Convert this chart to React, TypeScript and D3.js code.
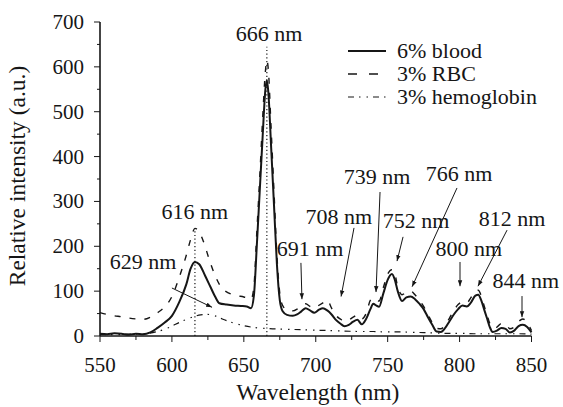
import React from "react";
import * as d3 from "d3";

// 6% blood (solid)
const bloodWl = [550, 555, 560, 565, 570, 575, 580, 585, 590, 595, 600, 605, 610, 613, 616, 619, 623, 627, 630, 633, 638, 643, 648, 652, 655, 657, 659, 661, 663, 665, 666, 667, 669, 671, 673, 675, 677, 680, 684, 687, 690, 693, 696, 699, 702, 705, 708, 711, 714, 717, 720, 723, 726, 729, 732, 735, 738, 740, 742, 744, 747, 750, 753, 755, 757, 760, 763, 766, 769, 772, 775, 778, 781, 784, 787, 790, 793, 796, 799, 802, 805, 808, 811, 813, 815, 817, 819, 821, 823, 826, 829, 832, 835, 838, 841, 844, 847, 850];
const bloodVal = [5, 4, 6, 5, 3, 5, 4, 8, 18, 30, 45, 75, 115, 150, 165, 160, 135, 108, 88, 73, 70, 68, 67, 66, 62, 90, 200, 320, 440, 550, 570, 545, 420, 290, 160, 80, 55, 47, 45, 48, 55, 62, 57, 52, 58, 62, 57, 48, 36, 28, 22, 25, 32, 36, 26, 38, 60, 72, 68, 65, 95, 125, 138, 125, 100, 78, 86, 88, 82, 72, 60, 42, 25, 10, 9, 18, 33, 48, 60, 68, 66, 75, 90, 92, 80, 60, 40, 20, 9, 12, 18, 16, 8, 12, 22, 25, 20, 8];

// 3% RBC (dashed)
const rbcWl = [550, 555, 560, 565, 570, 575, 580, 585, 590, 595, 600, 605, 610, 613, 616, 619, 622, 626, 630, 634, 640, 645, 650, 655, 657, 659, 661, 663, 665, 666, 667, 669, 671, 673, 675, 677, 680, 684, 687, 690, 693, 696, 699, 702, 705, 708, 711, 714, 717, 720, 723, 726, 729, 732, 735, 738, 740, 742, 744, 747, 750, 753, 755, 757, 760, 763, 766, 769, 772, 775, 778, 781, 784, 787, 790, 793, 796, 799, 802, 805, 808, 811, 813, 815, 817, 819, 821, 823, 826, 829, 832, 835, 838, 841, 844, 847, 850];
const rbcVal = [52, 48, 45, 43, 40, 38, 37, 42, 52, 65, 88, 130, 180, 215, 240, 232, 210, 170, 135, 110, 95, 90, 87, 82, 110, 230, 350, 480, 590, 615, 595, 460, 320, 180, 95, 68, 58, 56, 60, 68, 72, 66, 62, 68, 74, 80, 62, 46, 38, 33, 36, 42, 47, 38, 50, 80, 85, 80, 78, 108, 138, 148, 138, 110, 92, 98, 100, 92, 80, 66, 48, 30, 17, 16, 25, 40, 57, 70, 76, 74, 86, 100, 102, 90, 68, 48, 28, 18, 20, 28, 26, 16, 20, 32, 38, 30, 12];

// 3% hemoglobin (dash-dot)
const hbWl = [550, 560, 570, 580, 590, 595, 600, 605, 610, 615, 620, 625, 630, 635, 640, 645, 650, 655, 660, 665, 670, 680, 690, 700, 710, 720, 730, 740, 750, 760, 770, 780, 790, 800, 810, 820, 830, 840, 850];
const hbVal = [3, 3, 4, 5, 10, 15, 22, 30, 37, 43, 47, 48, 45, 38, 32, 27, 23, 20, 18, 17, 16, 15, 14, 13, 12, 11, 10, 10, 9, 9, 8, 7, 6, 6, 5, 5, 5, 5, 4];

const seriesNames = ["6% blood", "3% RBC", "3% hemoglobin"];
const xTicks = [550, 600, 650, 700, 750, 800, 850];
const yTicks = [0, 100, 200, 300, 400, 500, 600, 700];

// peak labels: text position and arrow (from -> to), in data units
const labels = ["666 nm", "616 nm", "629 nm", "691 nm", "708 nm", "739 nm", "766 nm", "752 nm", "800 nm", "812 nm", "844 nm"];
const labelPos = [[667.5, 658], [616, 261], [580, 149], [696, 178], [716, 250], [742.6, 339], [799.6, 345], [769.7, 241], [806.5, 178], [836.4, 245], [846, 107]];
const arrows = [null, null, [600, 107, 627.9, 64], [689.7, 163, 690.4, 82], [726.6, 241, 717.6, 88], [744.7, 321, 741.9, 98], [798.2, 330, 767, 110], [760.7, 221, 756.5, 167], [800.3, 165, 800.3, 111], [833, 236, 812.8, 111], [843.4, 89, 843.4, 42]];
const peakLines = [[616, 240], [666, 645]];

const W = 563;
const H = 407;
const margin = { top: 22, right: 31.5, bottom: 71, left: 100 };
const width = W - margin.left - margin.right;
const height = H - margin.top - margin.bottom;
const ink = "#161616";
// no letter-spacing: it makes the renderer drop the serif font
const FONT = "Liberation Serif";

const styles = [
  { w: 2, dash: undefined },
  { w: 1.4, dash: "6,9" },
  { w: 1.2, dash: "6,5,1.5,6,1.5,5" },
];

const App = () => {
  const x = d3.scaleLinear().domain([550, 850]).range([0, width]);
  const y = d3.scaleLinear().domain([0, 700]).range([height, 0]);
  const line = d3.line().curve(d3.curveMonotoneX);

  const sets = [
    bloodWl.map((w, i) => [x(w), y(bloodVal[i])]),
    rbcWl.map((w, i) => [x(w), y(rbcVal[i])]),
    hbWl.map((w, i) => [x(w), y(hbVal[i])]),
  ];

  const t = (size) => ({ fontFamily: FONT, fontSize: size });

  return (
    <svg width={W} height={H} style={{ position: "absolute", left: 0, top: 0, background: "#fff" }}>
      <defs>
        <marker id="arr" viewBox="0 0 8 6" refX={8} refY={3} markerWidth={6} markerHeight={5}
          markerUnits="userSpaceOnUse" orient="auto">
          <path d="M0,0 L8,3 L0,6 Z" fill={ink} />
        </marker>
      </defs>
      <g transform={`translate(${margin.left},${margin.top})`}>
        {peakLines.map((d, i) => (
          <line key={i} x1={x(d[0])} x2={x(d[0])} y1={y(0)} y2={y(d[1])}
            stroke={ink} strokeWidth={1.2} strokeDasharray="1.2,2.5" />
        ))}

        {[2, 1, 0].map((k) => (
          <path key={k} d={line(sets[k])} fill="none" stroke={ink}
            strokeWidth={styles[k].w} strokeDasharray={styles[k].dash} strokeLinejoin="round" />
        ))}

        {/* x axis */}
        <line x1={0} x2={width} y1={height} y2={height} stroke={ink} strokeWidth={1.6} />
        {d3.range(550, 851, 25).map((v) => (
          <line key={v} x1={x(v)} x2={x(v)} y1={height} y2={height + (v % 50 === 0 ? 6 : 4)}
            stroke={ink} strokeWidth={1} />
        ))}
        {xTicks.map((v) => (
          <text key={v} x={x(v)} y={height + 36} textAnchor="middle" fill={ink} style={t(21)}>{v}</text>
        ))}

        {/* y axis */}
        <line x1={0} x2={0} y1={0} y2={height} stroke={ink} strokeWidth={1.6} />
        {d3.range(0, 701, 50).map((v) => (
          <line key={v} x1={v % 100 === 0 ? -6 : -3} x2={0} y1={y(v)} y2={y(v)}
            stroke={ink} strokeWidth={1} />
        ))}
        {yTicks.map((v) => (
          <text key={v} x={-16} y={y(v) + 7} textAnchor="end" fill={ink} style={t(21)}>{v}</text>
        ))}

        <text x={width / 2 + 2} y={height + 64} textAnchor="middle" fill={ink} style={t(23.5)}>
          Wavelength (nm)
        </text>
        <text transform={`translate(-75,${height / 2 - 3}) rotate(-90)`} textAnchor="middle" fill={ink}
          style={t(23.5)}>
          Relative intensity (a.u.)
        </text>

        {/* peak annotations */}
        {labels.map((s, i) => (
          <text key={s} x={x(labelPos[i][0])} y={y(labelPos[i][1])} textAnchor="middle" fill={ink}
            style={t(22)}>{s}</text>
        ))}
        {arrows.map((a, i) => a && (
          <line key={i} x1={x(a[0])} y1={y(a[1])} x2={x(a[2])} y2={y(a[3])}
            stroke={ink} strokeWidth={1} markerEnd="url(#arr)" />
        ))}
      </g>

      {/* legend */}
      <g transform="translate(348,51)">
        {seriesNames.map((n, i) => (
          <g key={n} transform={`translate(0,${i * 23})`}>
            <line x1={0} x2={38} y1={0} y2={0} stroke={ink} strokeWidth={styles[i].w}
              strokeDasharray={i === 1 ? "9,12" : styles[i].dash} />
            <text x={49} y={7} fill={ink} style={t(22)}>{n}</text>
          </g>
        ))}
      </g>
    </svg>
  );
};

export default App;
